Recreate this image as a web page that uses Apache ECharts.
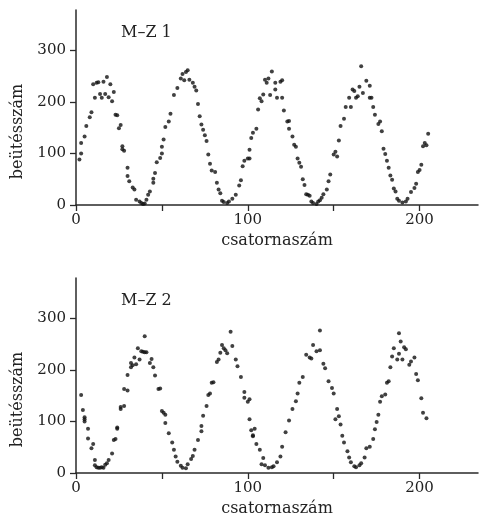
<!DOCTYPE html>
<html>
<head>
<meta charset="utf-8">
<script src="https://cdn.jsdelivr.net/npm/echarts@6/dist/echarts.min.js"></script>
<style>html,body{margin:0;padding:0;background:#fff}#c{width:479px;height:524px}</style>
</head>
<body>
<div id="c"></div>
<script>
// Panel titles and axis texts
const panelTitles = ["M–Z 1", "M–Z 2"];
const xName = "csatornaszám";
const yName = "beütésszám";
const xTickValues = [0, 50, 100, 150, 200];
const xLabelValues = [0, 100, 200];
const yTickValues = [0, 100, 200, 300];

// M–Z 1: channel numbers and counts
const ch1 = [2,3,3,5,6,8,9,10,11,12,13,14,15,16,17,18,19,20,21,22,23,24,25,26,27,27,28,30,30,31,33,34,35,37,38,39,40,41,42,43,45,45,46,47,49,50,50,51,52,
54,55,57,59,61,62,63,64,65,66,68,69,70,71,72,73,74,75,76,77,78,79,81,82,83,84,85,86,88,89,91,93,95,96,97,98,100,101,
101,102,103,105,106,107,108,109,110,111,112,113,114,116,116,117,119,120,120,121,123,124,124,126,127,128,129,130,131,132,133,134,135,136,137,138,140,141,142,143,144,146,147,148,150,151,152,153,
154,156,157,159,160,161,162,163,164,165,166,167,169,171,171,172,173,174,176,177,178,179,180,181,182,183,184,185,186,187,188,190,192,193,195,197,198,199,200,201,202,203,204,205];
const counts1 = [88,100,120,133,153,170,180,234,208,237,238,215,208,239,215,248,209,234,201,219,175,174,149,155,108,114,105,72,56,46,34,30,10,7,4,2,3,10,20,26,43,51,62,83,91,100,113,127,151,
162,177,213,227,245,254,242,258,261,243,237,229,222,196,172,156,146,135,124,98,80,67,64,43,30,23,8,6,4,7,12,20,38,48,75,86,90,90,
107,130,140,148,185,207,201,214,243,237,245,213,259,237,224,208,239,242,208,183,162,163,148,133,117,113,90,82,74,50,39,21,20,18,7,4,2,7,9,14,21,30,46,59,98,103,94,125,
153,167,190,208,190,224,221,208,211,229,269,217,241,208,231,208,190,175,157,162,143,109,99,86,72,57,49,32,26,12,8,5,7,12,25,33,41,64,68,78,114,120,116,138];

// M–Z 2: channel numbers and counts
const ch2 = [3,4,5,5,5,7,7,9,10,11,11,12,13,14,15,16,17,18,19,21,22,23,24,24,26,26,28,28,30,30,32,32,33,34,35,36,37,38,39,40,40,41,43,44,45,46,48,49,50,51,52,52,
54,56,57,58,59,61,62,64,65,67,68,69,71,73,73,74,76,77,78,79,80,82,83,84,85,86,87,88,90,91,93,94,96,98,98,100,101,101,102,103,103,104,
105,107,108,109,110,112,114,115,117,119,120,122,124,126,128,129,130,132,134,136,137,138,140,142,142,144,145,147,149,150,151,152,153,154,
155,156,158,159,160,162,163,165,166,168,169,171,173,174,175,176,177,178,180,181,182,183,184,185,187,188,188,189,190,191,192,194,195,197,198,199,201,202,204];
const counts2 = [151,122,104,108,100,86,67,48,56,25,15,11,10,10,11,10,16,19,25,38,64,66,88,86,124,128,130,163,160,190,205,213,209,224,211,242,220,236,235,234,265,234,213,221,205,189,163,164,120,117,113,97,
77,59,45,32,22,14,10,9,17,27,33,45,64,81,91,111,130,151,154,175,176,215,220,233,248,242,238,232,274,246,220,207,186,157,146,138,143,104,83,73,71,86,
56,45,17,29,15,10,11,13,21,32,51,79,102,124,139,154,175,186,229,224,222,248,236,276,238,212,203,178,165,154,104,124,110,94,
72,59,42,30,21,13,11,15,19,30,48,51,66,85,99,113,138,149,152,175,178,205,226,242,220,231,271,255,220,244,240,210,216,224,192,180,145,117,106];

const pts1 = ch1.map((c, i) => [c, counts1[i]]);
const pts2 = ch2.map((c, i) => [c, counts2[i]]);

const FONT = "DejaVu Serif";
const AX = "#2a2a2a";

function xAxisCfg(gi) {
  return {
    gridIndex: gi, type: 'value', min: 0, max: 234,
    name: xName, nameLocation: 'middle', nameGap: 28,
    nameTextStyle: {fontFamily: FONT, fontSize: 16, color: '#222'},
    axisLine: {lineStyle: {color: AX, width: 1.5}},
    axisTick: {customValues: xTickValues, length: 6, lineStyle: {color: AX, width: 1.3}},
    axisLabel: {customValues: xLabelValues, margin: 8, fontFamily: FONT, fontSize: 15, color: '#222'},
    splitLine: {show: false}
  };
}
function yAxisCfg(gi) {
  return {
    gridIndex: gi, type: 'value', min: 0, max: 378,
    name: yName, nameLocation: 'middle', nameGap: 50,
    nameTextStyle: {fontFamily: FONT, fontSize: 16, color: '#222', padding: [0, 48, 0, 0]},
    axisLine: {show: true, lineStyle: {color: AX, width: 1.5}},
    axisTick: {show: true, customValues: yTickValues, length: 6, lineStyle: {color: AX, width: 1.3}},
    axisLabel: {customValues: yTickValues, margin: 10, fontFamily: FONT, fontSize: 15, color: '#222'},
    splitLine: {show: false}
  };
}

const chart = echarts.init(document.getElementById('c'), null, {renderer: 'canvas'});
chart.setOption({
  animation: false,
  backgroundColor: '#fff',
  grid: [
    {left: 76, right: 1, top: 10, height: 195},
    {left: 76, right: 1, top: 278, height: 195}
  ],
  xAxis: [xAxisCfg(0), xAxisCfg(1)],
  yAxis: [yAxisCfg(0), yAxisCfg(1)],
  graphic: [
    {type: 'text', left: 121, top: 25, style: {text: panelTitles[0], fontFamily: FONT, fontSize: 16, fill: '#222'}},
    {type: 'text', left: 121, top: 293, style: {text: panelTitles[1], fontFamily: FONT, fontSize: 16, fill: '#222'}}
  ],
  series: [
    {type: 'scatter', xAxisIndex: 0, yAxisIndex: 0, data: pts1, symbolSize: 4, itemStyle: {color: '#111'}},
    {type: 'scatter', xAxisIndex: 1, yAxisIndex: 1, data: pts2, symbolSize: 4, itemStyle: {color: '#111'}}
  ]
});
</script>
</body>
</html>
